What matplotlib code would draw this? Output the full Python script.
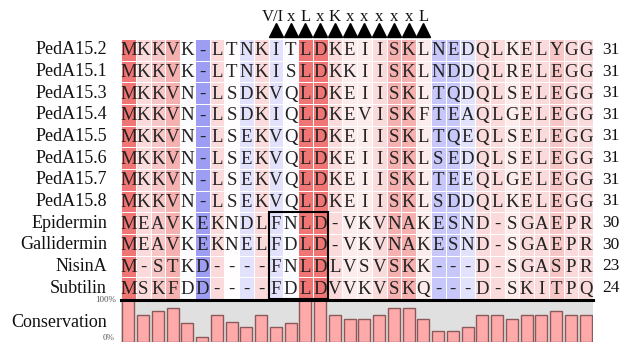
import numpy as np
import matplotlib
matplotlib.use('Agg')
import matplotlib.pyplot as plt
from matplotlib.colors import LinearSegmentedColormap, TwoSlopeNorm
from matplotlib.patches import Rectangle

plt.rcParams['font.family'] = ['Liberation Serif', 'DejaVu Serif']

names = ['PedA15.2', 'PedA15.1', 'PedA15.3', 'PedA15.4', 'PedA15.5', 'PedA15.6',
         'PedA15.7', 'PedA15.8', 'Epidermin', 'Gallidermin', 'NisinA', 'Subtilin']
seqs = [
    'MKKVK-LTNKITLDKEIISKLNEDQLKELYGG',
    'MKKVK-LTNKISLDKKIISKLNDDQLRELEGG',
    'MKKVN-LSDKVQLDKEIISKLTQDQLSELEGG',
    'MKKVN-LSDKIQLDKEVISKFTEAQLGELEGG',
    'MKKVN-LSEKVQLDKEIISKLTQEQLSELEGG',
    'MKKVN-LSEKVQLDKEIISKLSEDQLSELEGG',
    'MKKVN-LSEKVQLDKEIISKLTEEQLGELEGG',
    'MKKVN-LSEKVQLDKEIISKLSDDQLKELEGG',
    'MEAVKEKNDLFNLD-VKVNAKESND-SGAEPR',
    'MEAVKEKNELFDLD-VKVNAKESND-SGAEPR',
    'M-STKD----FNLDLVSVSKK---D-SGASPR',
    'MSKFDD----FDLDVVKVSKQ---D-SKITPQ',
]
lengths = [31, 31, 31, 31, 31, 31, 31, 31, 30, 30, 23, 24]

# per-column conservation (%)
conservation = [100, 64, 73, 82, 45, 13, 64, 47, 36, 64, 36, 45,
                100, 100, 64, 55, 55, 64, 82, 82, 55, 27, 27, 36,
                64, 64, 55, 64, 64, 73, 64, 64]

# motif markers above the alignment (column index, label)
motif_cols = [10, 11, 12, 13, 14, 15, 16, 17, 18, 19, 20]
motif_labels = ['V/I', 'x', 'L', 'x', 'K', 'x', 'x', 'x', 'x', 'x', 'L']

ncol = len(conservation)
nrow = len(seqs)

W, H = 623, 342
fig = plt.figure(figsize=(W / 100, H / 100), dpi=100)

x0, x1 = 121, 593
ax = fig.add_axes([x0 / W, (H - 299) / H, (x1 - x0) / W, 260 / H])
axc = fig.add_axes([x0 / W, 0, (x1 - x0) / W, 42 / H])

cmap = LinearSegmentedColormap.from_list(
    'cons', [(0, '#8f8ff2'), (0.5, '#ffffff'), (0.8, '#f6bcbc'), (1, '#f07676')])
norm = TwoSlopeNorm(vmin=8, vcenter=46, vmax=100)

grid = np.tile(np.array(conservation, dtype=float), (nrow, 1))
ax.pcolormesh(np.arange(ncol + 1), np.arange(nrow + 1), grid, cmap=cmap, norm=norm,
              edgecolors='white', linewidth=0.7)
ax.set_xlim(0, ncol)
ax.set_ylim(nrow, 0)
ax.axis('off')

for i, (name, seq, n) in enumerate(zip(names, seqs, lengths)):
    ax.text(-0.95, i + 0.5, name, ha='right', va='center', fontsize=13, color='#111111')
    ax.text(ncol + 1.2, i + 0.5, str(n), ha='center', va='center', fontsize=12.5, color='#111111')
    for j, ch in enumerate(seq):
        ax.text(j + 0.5, i + 0.55, ch, ha='center', va='center', fontsize=13.5, color='#222222')

# motif box around the lantibiotic rows
ax.add_patch(Rectangle((10, 8), 4, 4, fill=False, edgecolor='black', lw=1.5, clip_on=False))

for c, lab in zip(motif_cols, motif_labels):
    ax.plot(c + 0.5, -0.42, marker='^', markersize=10, color='black', clip_on=False)
    dx = -0.2 if lab == 'V/I' else 0
    ax.text(c + 0.5 + dx, -1.0, lab, ha='center', va='center', fontsize=12, color='#111111')

# conservation track
axc.set_facecolor('#e0e0e0')
axc.bar(np.arange(ncol) + 0.5, conservation, width=0.82, color='#ffaaaa',
        edgecolor='#8a5a5a', linewidth=1)
axc.set_xlim(0, ncol)
axc.set_ylim(0, 100)
for s in ['left', 'right', 'bottom']:
    axc.spines[s].set_visible(False)
axc.spines['top'].set_linewidth(2.2)
axc.set_xticks([])
axc.set_yticks([])
axc.text(-0.95, 47, 'Conservation', ha='right', va='center', fontsize=13, color='#111111')
axc.text(-0.35, 100, '100%', ha='right', va='center', fontsize=6.5, color='#555555')
axc.text(-0.45, 9, '0%', ha='right', va='center', fontsize=6.5, color='#555555')

fig.savefig('out.png', dpi=100)
